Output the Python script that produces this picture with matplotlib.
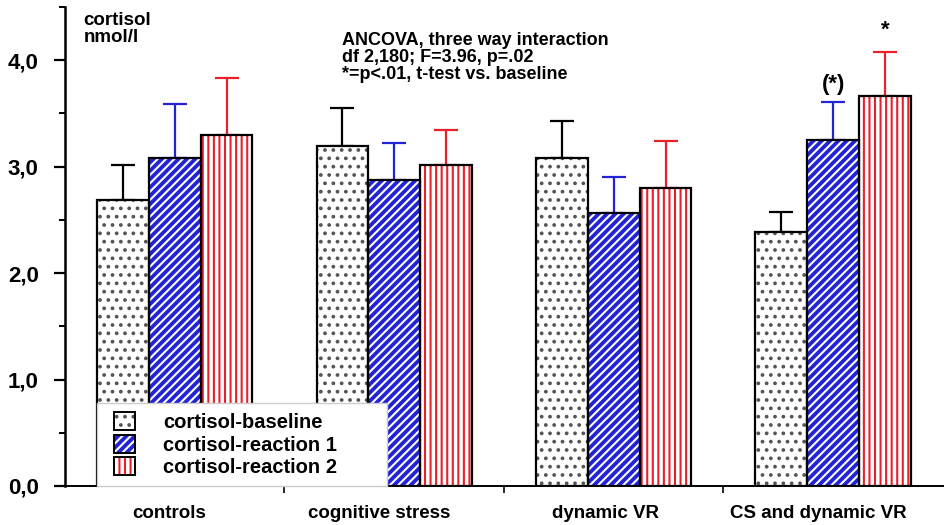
import numpy as np
import matplotlib.pyplot as plt
from matplotlib.patches import Patch
from matplotlib.legend_handler import HandlerTuple

plt.rcParams['font.family'] = ['Liberation Sans', 'DejaVu Sans']
plt.rcParams['font.weight'] = 'bold'
plt.rcParams['hatch.linewidth'] = 1.5

# data
groups = ['controls', 'cognitive stress', 'dynamic VR', 'CS and dynamic VR']
series = ['cortisol-baseline', 'cortisol-reaction 1', 'cortisol-reaction 2']
baseline = [2.69, 3.19, 3.08, 2.39]
baseline_err = [0.33, 0.36, 0.35, 0.18]
reaction1 = [3.08, 2.87, 2.56, 3.25]
reaction1_err = [0.51, 0.35, 0.34, 0.36]
reaction2 = [3.30, 3.02, 2.80, 3.66]
reaction2_err = [0.53, 0.32, 0.44, 0.42]

values = [baseline, reaction1, reaction2]
errors = [baseline_err, reaction1_err, reaction2_err]
faces = ['white', '#2323d6', 'white']
hatch_cols = ['#555555', 'white', '#e8202a']
hatches = ['..', '////', '|||']
err_cols = ['black', '#2323d6', '#e8202a']

fig = plt.figure(figsize=(9.45, 5.25), dpi=100)
ax = fig.add_axes([0.0688, 0.0743, 0.929, 0.9124])

x = np.arange(len(groups))
w = 0.236
for i in range(3):
    pos = x + (i - 1) * w
    ax.bar(pos, values[i], w, color=faces[i], edgecolor=hatch_cols[i],
           hatch=hatches[i], linewidth=0, zorder=2)
    ax.bar(pos, values[i], w, fill=False, edgecolor='black', linewidth=1.6, zorder=3)
    ax.errorbar(pos, values[i], yerr=[np.zeros(4), errors[i]], fmt='none',
                ecolor=err_cols[i], elinewidth=1.6, capsize=8.5, capthick=1.6, zorder=1)

# significance marks
ax.text(x[3], reaction1[3] + reaction1_err[3] + 0.06, '(*)', ha='center', va='bottom',
        fontsize=16, fontweight='bold')
ax.text(x[3] + w, reaction2[3] + reaction2_err[3] + 0.1, '*', ha='center', va='bottom',
        fontsize=16, fontweight='bold')

ax.set_xlim(-0.5, 3.5)
ax.set_ylim(0, 4.5)
ax.set_yticks([0, 1, 2, 3, 4])
ax.set_yticklabels(['0,0', '1,0', '2,0', '3,0', '4,0'], fontsize=16, fontweight='bold')
ax.set_yticks([0.5, 1.5, 2.5, 3.5, 4.5], minor=True)
# labels sit a little left of the group centres in the original
ax.set_xticks(x + np.array([-0.027, -0.068, -0.036, -0.068]))
ax.set_xticklabels(groups, fontsize=13.5, fontweight='bold')
ax.set_xticks([0.5, 1.5, 2.5], minor=True)
ax.tick_params(axis='x', which='major', length=0, pad=14)
ax.tick_params(axis='x', which='minor', length=5, width=1.2, direction='out')
ax.tick_params(axis='y', which='major', length=8, width=1.6, direction='out', pad=11)
ax.tick_params(axis='y', which='minor', length=4, width=1.4, direction='out')
for s in ['top', 'right']:
    ax.spines[s].set_visible(False)
ax.spines['left'].set_linewidth(1.8)
ax.spines['bottom'].set_linewidth(1.4)

ax.text(0.021, 0.99, 'cortisol\nnmol/l', transform=ax.transAxes, ha='left', va='top',
        fontsize=13.5, fontweight='bold', linespacing=1.05)
ax.text(0.316, 0.948, 'ANCOVA, three way interaction\ndf 2,180; F=3.96, p=.02\n*=p<.01, t-test vs. baseline',
        transform=ax.transAxes, ha='left', va='top', fontsize=13, fontweight='bold',
        linespacing=1.0)

handles = [(Patch(facecolor=faces[i], edgecolor=hatch_cols[i], hatch=hatches[i], linewidth=0),
            Patch(fill=False, edgecolor='black', linewidth=1.4)) for i in range(3)]
leg = ax.legend(handles, series, loc='lower left', bbox_to_anchor=(0.036, 0.0, 0.331, 0.17),
                mode='expand', borderaxespad=0, fancybox=False, framealpha=1,
                edgecolor='#cccccc', fontsize=14.5, handlelength=1.45, handleheight=1.0,
                labelspacing=0.12, handletextpad=1.4, borderpad=0.45,
                handler_map={tuple: HandlerTuple(ndivide=1, xpad=0.4)})
leg.set_zorder(5)
leg.get_frame().set_linewidth(1.0)

fig.savefig('out.png', dpi=100)
